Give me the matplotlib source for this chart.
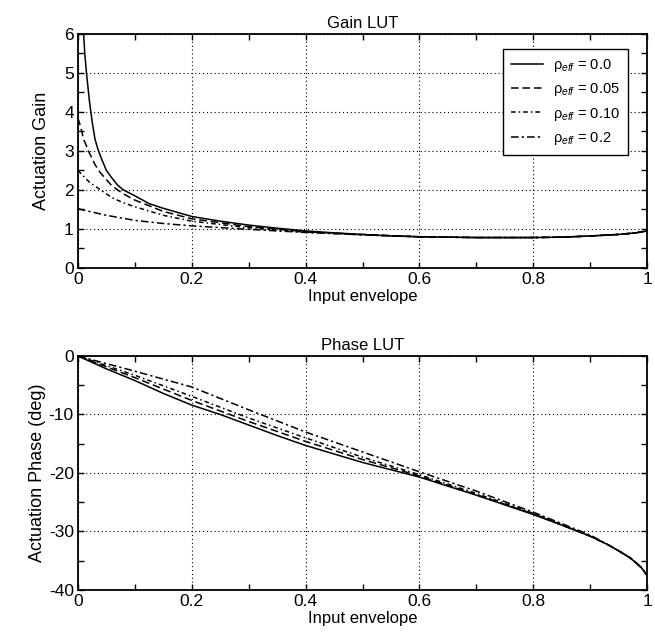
import matplotlib
matplotlib.use("Agg")
import matplotlib.pyplot as plt
import numpy as np
from matplotlib.ticker import MultipleLocator, FuncFormatter

plt.rcParams["font.family"] = ["Liberation Sans", "DejaVu Sans"]
plt.rcParams["mathtext.fontset"] = "custom"
plt.rcParams["mathtext.rm"] = "Liberation Sans"
plt.rcParams["mathtext.it"] = "Liberation Sans:italic"
plt.rcParams["axes.unicode_minus"] = False

labels = [r"$\mathrm{\rho}_{eff}$ = 0.0", r"$\mathrm{\rho}_{eff}$ = 0.05",
          r"$\mathrm{\rho}_{eff}$ = 0.10", r"$\mathrm{\rho}_{eff}$ = 0.2"]

# gain curves
gain_x0 = [0.008, 0.012, 0.015, 0.02, 0.025, 0.03, 0.035, 0.04, 0.05, 0.06, 0.07,
           0.08, 0.1, 0.125, 0.15, 0.2, 0.25, 0.3, 0.35, 0.4, 0.45, 0.5, 0.55,
           0.6, 0.7, 0.8, 0.85, 0.9, 0.95, 0.98, 1.0]
gain_y0 = [6.5, 5.5, 5.0, 4.3, 3.75, 3.3, 3.05, 2.85, 2.5, 2.3, 2.12,
           2.0, 1.85, 1.65, 1.53, 1.32, 1.2, 1.1, 1.02, 0.95, 0.9, 0.86, 0.82,
           0.8, 0.78, 0.78, 0.79, 0.82, 0.86, 0.9, 0.95]
gain_x1 = [0.0, 0.005, 0.01, 0.02, 0.03, 0.04, 0.06, 0.08, 0.1, 0.15, 0.2, 0.3,
           0.4, 0.5, 0.6]
gain_y1 = [3.85, 3.6, 3.3, 2.95, 2.65, 2.43, 2.1, 1.9, 1.74, 1.45, 1.26, 1.06,
           0.93, 0.86, 0.8]
gain_x2 = [0.0, 0.01, 0.02, 0.04, 0.06, 0.08, 0.1, 0.15, 0.2, 0.3, 0.4, 0.5, 0.6]
gain_y2 = [2.5, 2.35, 2.2, 2.0, 1.8, 1.67, 1.57, 1.35, 1.2, 1.03, 0.92, 0.85, 0.8]
gain_x3 = [0.0, 0.02, 0.05, 0.1, 0.15, 0.2, 0.3, 0.4, 0.5, 0.6]
gain_y3 = [1.52, 1.45, 1.35, 1.22, 1.14, 1.08, 0.99, 0.91, 0.85, 0.8]

# phase curves
ph_x0 = [0.0, 0.05, 0.1, 0.15, 0.2, 0.25, 0.3, 0.35, 0.4, 0.5, 0.6, 0.7, 0.8,
         0.85, 0.9, 0.93, 0.95, 0.97, 0.98, 0.99, 1.0]
ph_y0 = [0.0, -2.2, -4.2, -6.4, -8.4, -10.0, -11.8, -13.6, -15.3, -18.2, -20.7,
         -23.8, -27.1, -28.9, -30.8, -32.2, -33.3, -34.5, -35.3, -36.2, -37.5]
ph_x1 = [0.0, 0.1, 0.2, 0.3, 0.4, 0.5, 0.6, 0.7, 0.8]
ph_y1 = [0.0, -3.7, -7.6, -11.2, -14.6, -17.7, -20.5, -23.7, -27.0]
ph_x2 = [0.0, 0.1, 0.2, 0.3, 0.4, 0.5, 0.6, 0.7, 0.8]
ph_y2 = [0.0, -3.3, -6.9, -10.6, -14.0, -17.3, -20.3, -23.5, -26.9]
ph_x3 = [0.0, 0.1, 0.2, 0.3, 0.4, 0.5, 0.6, 0.7, 0.8, 0.9]
ph_y3 = [0.0, -2.6, -5.3, -9.2, -13.0, -16.4, -19.8, -23.1, -26.7, -30.6]

styles = ["-", (0, (5, 2.5)), (0, (3, 2, 1, 2)), (0, (5, 2, 1.5, 2))]


def fmt_x(v, pos):
    s = f"{v:.1f}"
    return {"0.0": "0", "1.0": "1"}.get(s, s)


def style_axes(ax):
    ax.set_xlim(0, 1)
    ax.xaxis.set_major_locator(MultipleLocator(0.2))
    ax.xaxis.set_minor_locator(MultipleLocator(0.1))
    ax.xaxis.set_major_formatter(FuncFormatter(fmt_x))
    ax.yaxis.set_major_formatter(FuncFormatter(lambda v, p: f"{v:.0f}"))
    ax.tick_params(which="both", direction="in", top=True, right=True,
                   length=4, width=1, labelsize=12.5, colors="black", pad=3)
    ax.grid(True, which="major", linestyle=(0, (1, 2.5)), color="black", linewidth=0.8)
    for s in ax.spines.values():
        s.set_linewidth(1.3)


fig = plt.figure(figsize=(6.55, 6.42), dpi=100)
ax1 = fig.add_axes([0.119, 0.5826, 0.869, 0.3645])
ax2 = fig.add_axes([0.119, 0.081, 0.869, 0.3645])

gx = [gain_x0, gain_x1, gain_x2, gain_x3]
gy = [gain_y0, gain_y1, gain_y2, gain_y3]
for i in range(4):
    x = list(gx[i])
    y = list(gy[i])
    if i > 0:
        # curves merge with the solid one past x=0.6
        x += [v for v in gain_x0 if v > 0.6]
        y += [gain_y0[j] for j, v in enumerate(gain_x0) if v > 0.6]
    ax1.plot(x, y, color="black", linestyle=styles[i], linewidth=1.1, label=labels[i])

ax1.set_ylim(0, 6)
ax1.yaxis.set_major_locator(MultipleLocator(1))
ax1.yaxis.set_minor_locator(MultipleLocator(0.5))
style_axes(ax1)
ax1.set_title("Gain LUT", fontsize=12, pad=4)
ax1.set_xlabel("Input envelope", fontsize=12, labelpad=1)
ax1.set_ylabel("Actuation Gain", fontsize=13, labelpad=10)
leg = ax1.legend(loc="upper right", bbox_to_anchor=(0.967, 0.936), borderaxespad=0,
                 fontsize=10.5, handlelength=2.2, handletextpad=0.7,
                 fancybox=False, edgecolor="black",
                 framealpha=1, borderpad=0.55, labelspacing=0.5)
leg.get_frame().set_linewidth(1.0)

px = [ph_x0, ph_x1, ph_x2, ph_x3]
py = [ph_y0, ph_y1, ph_y2, ph_y3]
for i in range(4):
    x = list(px[i])
    y = list(py[i])
    if i > 0:
        last = x[-1]
        x += [v for v in ph_x0 if v > last]
        y += [ph_y0[j] for j, v in enumerate(ph_x0) if v > last]
    ax2.plot(x, y, color="black", linestyle=styles[i], linewidth=1.1)

ax2.set_ylim(-40, 0)
ax2.yaxis.set_major_locator(MultipleLocator(10))
ax2.yaxis.set_minor_locator(MultipleLocator(5))
style_axes(ax2)
ax2.set_title("Phase LUT", fontsize=12, pad=4)
ax2.set_xlabel("Input envelope", fontsize=12, labelpad=1)
ax2.set_ylabel("Actuation Phase (deg)", fontsize=13, labelpad=2)

fig.savefig("out.png", dpi=100)
